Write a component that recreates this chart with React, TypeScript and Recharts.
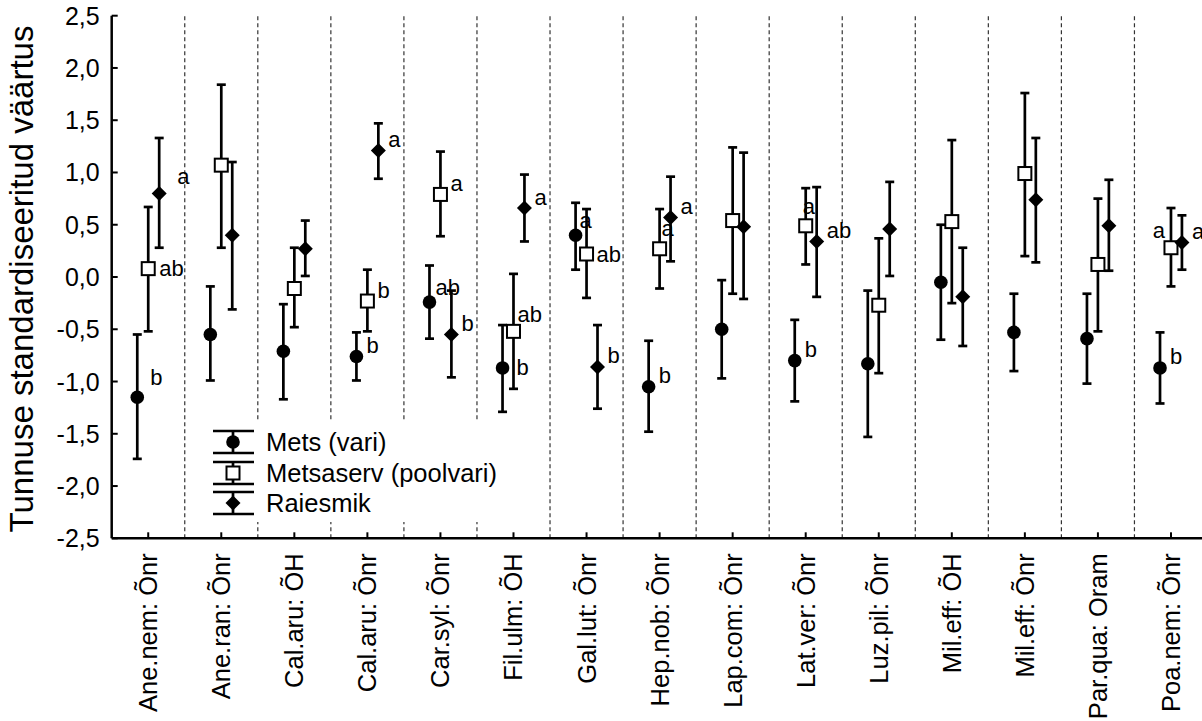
import React from "react";
import { ComposedChart, Scatter, XAxis, YAxis, ErrorBar, ReferenceLine, Legend } from "recharts";

// ---------- data ----------
const CATEGORIES = [
  "Ane.nem: Õnr", "Ane.ran: Õnr", "Cal.aru: ÕH", "Cal.aru: Õnr", "Car.syl: Õnr",
  "Fil.ulm: ÕH", "Gal.lut: Õnr", "Hep.nob: Õnr", "Lap.com: Õnr", "Lat.ver: Õnr",
  "Luz.pil: Õnr", "Mil.eff: ÕH", "Mil.eff: Õnr", "Par.qua: Oram", "Poa.nem: Õnr",
];

const Y_TICKS = [-2.5, -2, -1.5, -1, -0.5, 0, 0.5, 1, 1.5, 2, 2.5];

const METS_MEAN = [-1.15, -0.55, -0.71, -0.76, -0.24, -0.87, 0.40, -1.05, -0.50, -0.80, -0.83, -0.05, -0.53, -0.59, -0.87];
const METS_LOW = [-1.74, -0.99, -1.17, -0.99, -0.59, -1.29, 0.07, -1.48, -0.97, -1.19, -1.53, -0.60, -0.90, -1.02, -1.21];
const METS_HIGH = [-0.55, -0.09, -0.26, -0.53, 0.11, -0.46, 0.71, -0.61, -0.03, -0.41, -0.13, 0.50, -0.16, -0.16, -0.53];
const METS_LETTERS = ["b", "", "", "b", "ab", "b", "a", "b", "", "b", "", "", "", "", "b"];

const SERV_MEAN = [0.08, 1.07, -0.11, -0.23, 0.79, -0.52, 0.22, 0.27, 0.54, 0.49, -0.27, 0.53, 0.99, 0.12, 0.28];
const SERV_LOW = [-0.52, 0.28, -0.48, -0.52, 0.39, -1.07, -0.20, -0.11, -0.16, 0.12, -0.92, -0.25, 0.20, -0.52, -0.09];
const SERV_HIGH = [0.67, 1.84, 0.28, 0.07, 1.20, 0.03, 0.65, 0.65, 1.24, 0.85, 0.37, 1.31, 1.76, 0.75, 0.66];
const SERV_LETTERS = ["ab", "", "", "b", "a", "ab", "ab", "a", "", "a", "", "", "", "", "a"];

const RAIE_MEAN = [0.80, 0.40, 0.27, 1.21, -0.55, 0.66, -0.86, 0.57, 0.48, 0.34, 0.46, -0.19, 0.74, 0.49, 0.33];
const RAIE_LOW = [0.28, -0.31, 0.01, 0.94, -0.96, 0.34, -1.26, 0.15, -0.21, -0.19, 0.01, -0.66, 0.14, 0.06, 0.07];
const RAIE_HIGH = [1.33, 1.10, 0.54, 1.47, -0.13, 0.98, -0.46, 0.96, 1.19, 0.86, 0.91, 0.28, 1.33, 0.93, 0.59];
const RAIE_LETTERS = ["a", "", "", "a", "b", "a", "b", "a", "", "ab", "", "", "", "", "a"];

const SERIES_NAMES = ["Mets (vari)", "Metsaserv (poolvari)", "Raiesmik"];

// ---------- layout / style ----------
const FONT = '"Liberation Sans", Arial, Helvetica, sans-serif';
const X_OFFSETS = [-0.15, 0, 0.15];
const MARKERS = ["circle", "square", "diamond"];
const DEFAULT_NUDGE: [number, number] = [10, -11];
const LETTER_NUDGE: Record<string, [number, number, string?]> = {
  "0-0": [13, -20],
  "1-0": [11, 0],
  "2-0": [18, -17],
  "0-4": [6, -15],
  "1-5": [4, -17],
  "0-5": [14, 0],
  "0-6": [4, -15],
  "1-6": [10, 0],
  "1-7": [2, -20],
  "1-9": [-3, -19],
  "1-14": [-6, -17, "end"],
};

const SERIES = [
  { name: SERIES_NAMES[0], mean: METS_MEAN, low: METS_LOW, high: METS_HIGH, letters: METS_LETTERS },
  { name: SERIES_NAMES[1], mean: SERV_MEAN, low: SERV_LOW, high: SERV_HIGH, letters: SERV_LETTERS },
  { name: SERIES_NAMES[2], mean: RAIE_MEAN, low: RAIE_LOW, high: RAIE_HIGH, letters: RAIE_LETTERS },
];

const buildData = (sIdx: number) => {
  const s = SERIES[sIdx];
  return CATEGORIES.map((_, i) => ({
    x: i + X_OFFSETS[sIdx],
    y: s.mean[i],
    err: [s.mean[i] - s.low[i], s.high[i] - s.mean[i]],
    letter: s.letters[i],
    sIdx,
    idx: i,
  }));
};

const Marker = ({ type, cx, cy }: { type: string; cx: number; cy: number }) => {
  if (type === "circle") return <circle cx={cx} cy={cy} r={6.8} fill="#000" />;
  if (type === "square")
    return <rect x={cx - 6.5} y={cy - 6.5} width={13} height={13} fill="#fff" stroke="#000" strokeWidth={2} />;
  return (
    <polygon
      points={`${cx},${cy - 7.5} ${cx + 7.5},${cy} ${cx},${cy + 7.5} ${cx - 7.5},${cy}`}
      fill="#000"
    />
  );
};

const makeShape = (sIdx: number) => (props: any) => {
  const { cx, cy, payload } = props;
  if (cx == null || cy == null) return <g />;
  const letter = payload?.letter;
  const nudge = LETTER_NUDGE[`${sIdx}-${payload?.idx}`] || DEFAULT_NUDGE;
  return (
    <g>
      <Marker type={MARKERS[sIdx]} cx={cx} cy={cy} />
      {letter ? (
        <text
          x={cx + nudge[0]}
          y={cy + nudge[1]}
          textAnchor={(nudge[2] as any) || "start"}
          dominantBaseline="central"
          fontFamily={FONT}
          fontSize={22}
          fill="#000"
        >
          {letter}
        </text>
      ) : null}
    </g>
  );
};

const YTick = (props: any) => {
  const { x, y, payload } = props;
  const label = Number(payload.value).toFixed(1).replace(".", ",");
  return (
    <g>
      <line x1={x} x2={x + 6} y1={y} y2={y} stroke="#000" strokeWidth={2} />
      <text x={x - 12} y={y} textAnchor="end" dominantBaseline="central" fontFamily={FONT} fontSize={25} fill="#000">
        {label}
      </text>
    </g>
  );
};

const XTick = (props: any) => {
  const { x, y, payload } = props;
  const label = CATEGORIES[Math.round(payload.value)] ?? "";
  return (
    <g transform={`translate(${x},${y})`}>
      <line x1={0} x2={0} y1={0} y2={-6} stroke="#000" strokeWidth={2} />
      <text transform="rotate(-90)" x={-15} y={9} textAnchor="end" fontFamily={FONT} fontSize={25.5} fill="#000">
        {label}
      </text>
    </g>
  );
};

const TopTick = (props: any) => {
  const { x, y } = props;
  return <line x1={x} x2={x} y1={y} y2={y + 6} stroke="#000" strokeWidth={2} />;
};

const LegendContent = () => {
  const rows = [20, 51, 81];
  return (
    <svg width={302} height={100} style={{ display: "block" }}>
      {SERIES_NAMES.map((name, i) => {
        const cy = rows[i];
        return (
          <g key={name}>
            <line x1={30} x2={30} y1={cy - 11} y2={cy + 11} stroke="#000" strokeWidth={2.7} />
            <line x1={10} x2={51} y1={cy - 11} y2={cy - 11} stroke="#000" strokeWidth={2.5} />
            <line x1={10} x2={51} y1={cy + 11} y2={cy + 11} stroke="#000" strokeWidth={2.5} />
            <Marker type={MARKERS[i]} cx={30} cy={cy} />
            <text x={63} y={cy} dominantBaseline="central" fontFamily={FONT} fontSize={25.5} fill="#000">
              {name}
            </text>
          </g>
        );
      })}
    </svg>
  );
};

const X_TICKS = CATEGORIES.map((_, i) => i);
const SEPARATORS = CATEGORIES.slice(0, -1).map((_, i) => i + 0.5);

export default function App() {
  return (
    <div
      style={{
        position: "absolute",
        left: 0,
        top: 0,
        width: 1202,
        height: 721,
        overflow: "hidden",
        background: "#fff",
      }}
    >
      <ComposedChart width={1220} height={721} margin={{ top: 15.7, right: 12.5, bottom: 0, left: 0 }}>
        <XAxis
          type="number"
          dataKey="x"
          domain={[-0.5, 14.5]}
          ticks={X_TICKS}
          interval={0}
          allowDataOverflow
          height={182.7}
          tickLine={false}
          tickSize={0}
          tickMargin={0}
          tick={<XTick />}
          axisLine={{ stroke: "#000", strokeWidth: 2.5 }}
        />
        <XAxis
          xAxisId="top"
          orientation="top"
          type="number"
          domain={[-0.5, 14.5]}
          ticks={X_TICKS}
          interval={0}
          allowDataOverflow
          height={0}
          tickLine={false}
          tickSize={0}
          tickMargin={0}
          tick={<TopTick />}
          axisLine={{ stroke: "#000", strokeWidth: 2.5 }}
        />
        <YAxis
          type="number"
          dataKey="y"
          domain={[-2.5, 2.5]}
          ticks={Y_TICKS}
          interval={0}
          allowDataOverflow
          width={111.7}
          tickLine={false}
          tickSize={0}
          tickMargin={0}
          tick={<YTick />}
          axisLine={{ stroke: "#000", strokeWidth: 2.5 }}
          label={{
            content: () => (
              <text
                transform="translate(33,279) rotate(-90)"
                textAnchor="middle"
                fontFamily={FONT}
                fontSize={33}
                fill="#000"
              >
                Tunnuse standardiseeritud väärtus
              </text>
            ),
          }}
        />
        {SEPARATORS.map((v) => (
          <ReferenceLine key={v} x={v} stroke="#333" strokeWidth={1.2} strokeDasharray="4 3" />
        ))}
        {SERIES.map((s, sIdx) => (
          <Scatter
            key={s.name}
            name={s.name}
            data={buildData(sIdx)}
            dataKey="y"
            isAnimationActive={false}
            shape={makeShape(sIdx)}
          >
            <ErrorBar
              dataKey="err"
              direction="y"
              width={4.5}
              stroke="#000"
              strokeWidth={2.7}
              style={{ strokeWidth: 2.7 }}
              isAnimationActive={false}
            />
          </Scatter>
        ))}
        <Legend
          layout="vertical"
          align="center"
          verticalAlign="middle"
          content={<LegendContent />}
          wrapperStyle={{ left: 203, top: 422, width: 302, height: 100, background: "#fff" }}
        />
      </ComposedChart>
    </div>
  );
}
